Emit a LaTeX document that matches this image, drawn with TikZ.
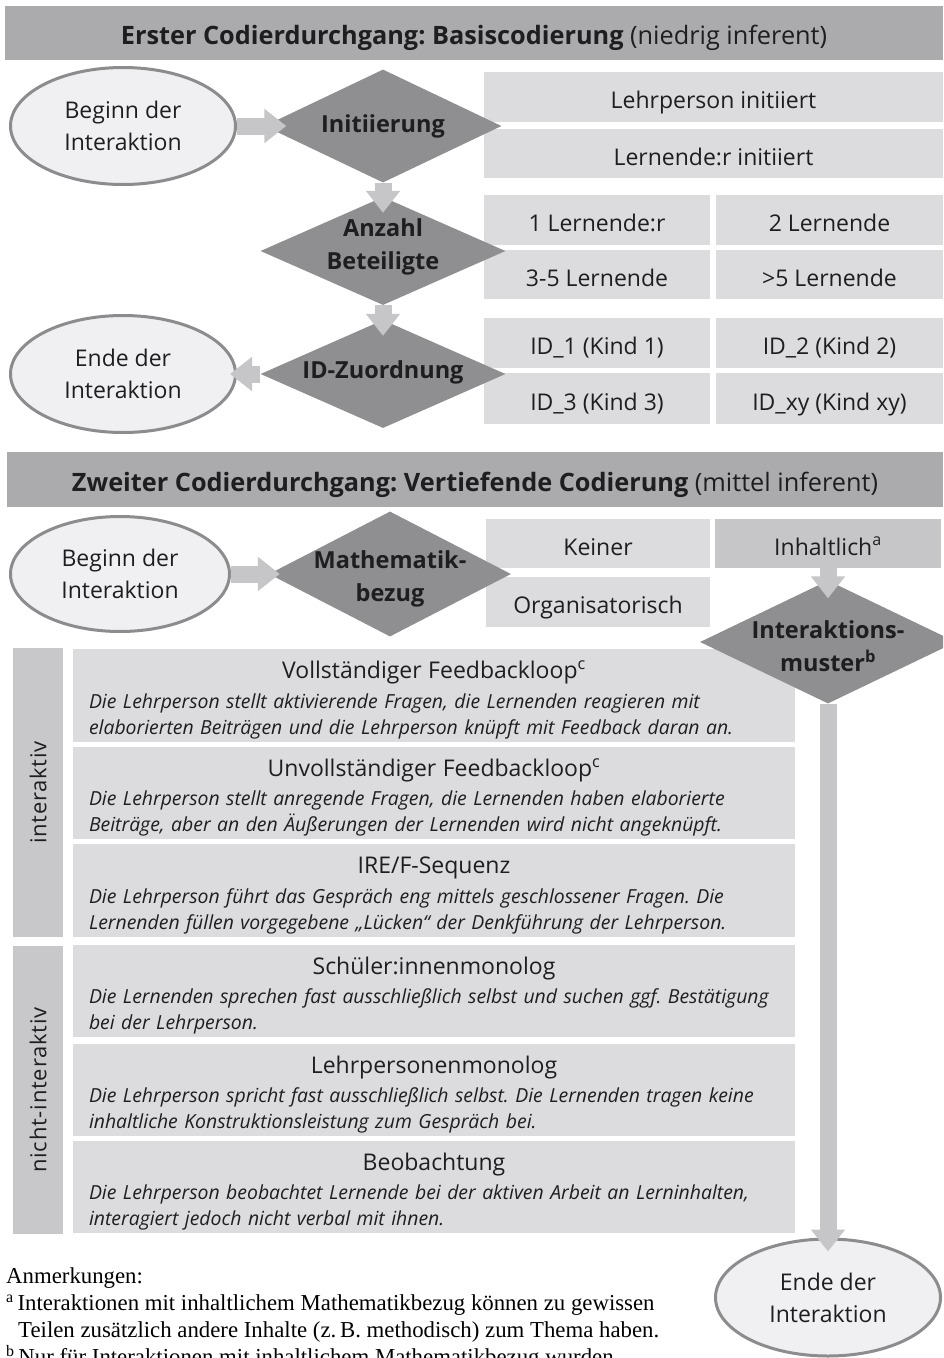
\documentclass[tikz,border=0pt]{standalone}
\usepackage{fontspec}
\setmainfont{Open Sans}
\newfontfamily\notefont{Liberation Serif}
\usetikzlibrary{shapes.geometric,arrows.meta}
\frenchspacing

\definecolor{hdrgray}{RGB}{171,171,173}
\definecolor{boxgray}{RGB}{220,220,222}
\definecolor{inhgray}{RGB}{198,198,200}
\definecolor{diagray}{RGB}{143,143,146}
\definecolor{arrgray}{RGB}{198,198,200}
\definecolor{bargray}{RGB}{200,200,202}
\definecolor{ellfill}{RGB}{240,240,242}
\definecolor{ellline}{RGB}{140,140,143}
\definecolor{ink}{RGB}{30,30,32}

\newcommand\lbl{\fontsize{23}{32}\selectfont}
\newcommand\desc{\itshape\fontsize{19.4}{26}\selectfont}
\newcommand\rowtitle[1]{\makebox[\hsize]{\rule{0pt}{26.5pt}\lbl\upshape #1}\par\vspace{3.5pt}}

\begin{document}
\begin{tikzpicture}[x=1pt,y=-1pt]
\tikzstyle{every node}+=[inner sep=0pt, text=ink]
\tikzstyle{hdr}=[fill=hdrgray, minimum width=938pt, minimum height=54pt, text height=23pt, text depth=0pt, font=\fontsize{25.3}{30}\selectfont]
\tikzstyle{opt}=[fill=boxgray, text height=23pt, text depth=0pt, font=\lbl]
\tikzstyle{decision}=[diamond, fill=diagray]
\tikzstyle{dlabel}=[font=\fontsize{23.5}{33}\selectfont\bfseries, align=center]
\tikzstyle{terminal}=[ellipse, draw=ellline, line width=3pt, fill=ellfill, minimum width=225pt, minimum height=117pt, align=center, font=\lbl]
\tikzstyle{side}=[fill=bargray, rotate=90, minimum height=50pt, font=\fontsize{22}{26}\selectfont\addfontfeature{LetterSpace=3.5}]
\tikzstyle{rowbox}=[fill=boxgray, minimum width=722pt, minimum height=92pt, text width=690pt, align=left, font=\desc]
\tikzstyle{flow}=[draw=arrgray, line width=17pt, -{Triangle[width=33pt,length=22pt]}]
\path[use as bounding box, clip] (0,0) rectangle (943,1358);

% first pass
\node [hdr] (hdra) at (474,33) {\textbf{Erster Codierdurchgang: Basiscodierung} (niedrig inferent)};
\node [opt, minimum width=459pt, minimum height=50pt] (lp) at (713.5,97) {Lehrperson initiiert};
\node [opt, minimum width=459pt, minimum height=49pt] (ln) at (713.5,153.5) {Lernende:r initiiert};
\node [opt, minimum width=226pt, minimum height=50pt] (n1) at (597,220) {1 Lernende:r};
\node [opt, minimum width=227pt, minimum height=50pt] (n2) at (829.5,220) {2 Lernende};
\node [opt, minimum width=226pt, minimum height=49pt] (n3) at (597,274.5) {3-5 Lernende};
\node [opt, minimum width=227pt, minimum height=49pt] (n4) at (829.5,274.5) {>5 Lernende};
\node [opt, minimum width=226pt, minimum height=50pt] (id1) at (597,343) {ID\_1 (Kind 1)};
\node [opt, minimum width=227pt, minimum height=50pt] (id2) at (829.5,343) {ID\_2 (Kind 2)};
\node [opt, minimum width=226pt, minimum height=51pt] (id3) at (597,398.5) {ID\_3 (Kind 3)};
\node [opt, minimum width=227pt, minimum height=51pt] (id4) at (829.5,398.5) {ID\_xy (Kind xy)};
\node [decision, minimum width=237pt, minimum height=113pt, label={[dlabel]center:Initiierung}] (ini) at (383,126) {};
\node [decision, minimum width=245pt, minimum height=108pt, label={[dlabel, yshift=4pt]center:Anzahl\\Beteiligte}] (anz) at (383,251) {};
\node [decision, minimum width=245pt, minimum height=108pt, label={[dlabel, yshift=2pt]center:ID-Zuordnung}] (idz) at (383,374) {};
\node [terminal] (bega) at (123,126) {Beginn der\\Interaktion};
\node [terminal] (enda) at (123,374) {Ende der\\Interaktion};

% second pass
\node [hdr, minimum width=936pt, minimum height=55pt] (hdrb) at (475,479.5) {\textbf{Zweiter Codierdurchgang: Vertiefende Codierung} (mittel inferent)};
\node [terminal, minimum width=219pt, minimum height=115pt] (begb) at (120,574) {Beginn der\\Interaktion};
\node [opt, minimum width=224pt, minimum height=49pt] (kei) at (598,543.5) {Keiner};
\node [opt, minimum width=224pt, minimum height=50pt] (org) at (598,602) {Organisatorisch};
\node [opt, fill=inhgray, minimum width=226pt, minimum height=49pt] (inh) at (828,543.5) {Inhaltlich\textsuperscript{a}};
\node [decision, minimum width=242pt, minimum height=125pt, label={[dlabel, yshift=-5pt]center:Mathematik-\\bezug}] (mat) at (390,574) {};
\node [side, minimum width=289pt] (sint) at (38,792.5) {interaktiv};
\node [side, minimum width=288pt] (snint) at (38,1090) {nicht-interaktiv};
\node [rowbox, minimum height=93pt] (vfl) at (434,695.5) {\rowtitle{Vollständiger Feedbackloop\textsuperscript{c}}Die Lehrperson stellt aktivierende Fragen, die Lernenden reagieren mit\\elaborierten Beiträgen und die Lehrperson knüpft mit Feedback daran an.};
\node [rowbox] (ufl) at (434,793) {\rowtitle{Unvollständiger Feedbackloop\textsuperscript{c}}Die Lehrperson stellt anregende Fragen, die Lernenden haben elaborierte\\Beiträge, aber an den Äußerungen der Lernenden wird nicht angeknüpft.};
\node [rowbox, minimum height=93pt] (ire) at (434,890.5) {\rowtitle{IRE/F-Sequenz}Die Lehrperson führt das Gespräch eng mittels geschlossener Fragen. Die\\Lernenden füllen vorgegebene „Lücken“ der Denkführung der Lehrperson.};
\node [rowbox] (smon) at (434,991) {\rowtitle{Schüler:innenmonolog}Die Lernenden sprechen fast ausschließlich selbst und suchen ggf. Bestätigung\\bei der Lehrperson.};
\node [rowbox] (lmon) at (434,1090) {\rowtitle{Lehrpersonenmonolog}Die Lehrperson spricht fast ausschließlich selbst. Die Lernenden tragen keine\\inhaltliche Konstruktionsleistung zum Gespräch bei.};
\node [rowbox] (beob) at (434,1187) {\rowtitle{Beobachtung}Die Lehrperson beobachtet Lernende bei der aktiven Arbeit an Lerninhalten,\\interagiert jedoch nicht verbal mit ihnen.};
\node [decision, minimum width=256pt, minimum height=123pt, label={[dlabel, yshift=-4pt]center:Interaktions-\\muster\textsuperscript{b}}] (mus) at (828,642) {};
\node [terminal] (endb) at (828,1297.5) {Ende der\\Interaktion};

% notes
\node [anchor=north west, align=left, text=black, font=\notefont\fontsize{22.8}{27}\selectfont] (notes) at (6,1267) {Anmerkungen:\\\textsuperscript{a}\,Interaktionen mit inhaltlichem Mathematikbezug können zu gewissen\\\hspace*{12pt}Teilen zusätzlich andere Inhalte (z.\,B. methodisch) zum Thema haben.\\\textsuperscript{b}\,Nur für Interaktionen mit inhaltlichem Mathematikbezug wurden};

% arrows
\draw [flow, shorten >=-22pt] (bega) -- (ini);
\draw [flow, shorten >=-16pt] (ini) -- (anz);
\draw [flow, shorten >=-16pt] (anz) -- (idz);
\draw [flow, shorten >=-7pt] (idz) -- (enda);
\draw [flow, shorten >=-11pt] (begb) -- (mat);
\draw [flow, shorten >=-18pt] (inh) -- (mus);
\draw [flow, shorten >=-14pt] (mus) -- (endb);
\end{tikzpicture}
\end{document}
